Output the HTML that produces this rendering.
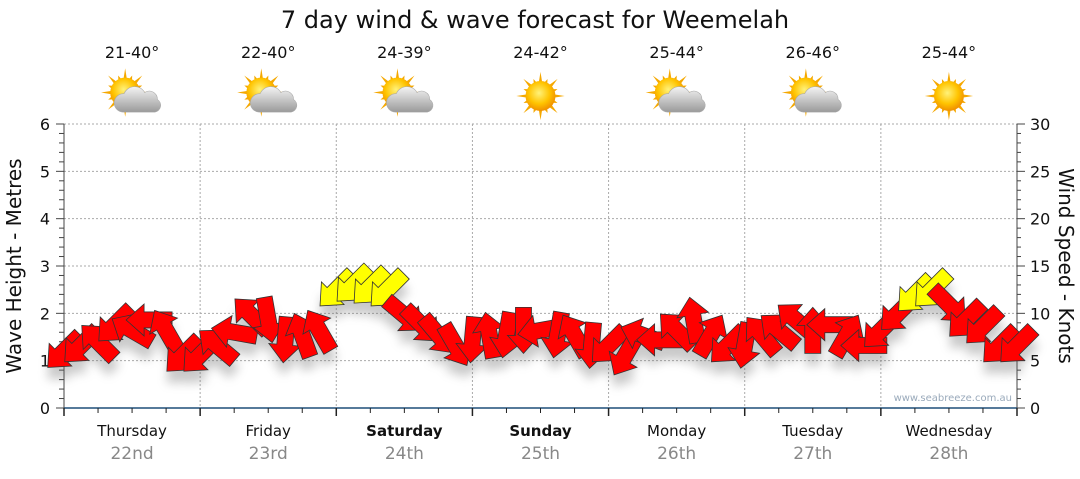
<!DOCTYPE html>
<html><head><meta charset="utf-8"><style>
body{margin:0;background:#fff;width:1080px;height:475px;overflow:hidden;font-family:"DejaVu Sans",sans-serif}
svg text{font-family:"DejaVu Sans","Liberation Sans",sans-serif}
</style></head><body>
<svg id="chart" width="1080" height="475" viewBox="0 0 1080 475" xmlns="http://www.w3.org/2000/svg">
<defs>
<filter id="sh" x="-50%" y="-50%" width="200%" height="200%"><feGaussianBlur stdDeviation="5"/></filter>
<radialGradient id="sunG" cx="45%" cy="40%" r="60%"><stop offset="0" stop-color="#fff27a"/><stop offset="0.6" stop-color="#ffc400"/><stop offset="1" stop-color="#f09000"/></radialGradient>
<linearGradient id="cloudG" x1="0" y1="0" x2="0" y2="1"><stop offset="0" stop-color="#f4f4f4"/><stop offset="1" stop-color="#9a9a9a"/></linearGradient>
</defs>
<text x="535" y="28" font-size="24" text-anchor="middle" fill="#111">7 day wind &amp; wave forecast for Weemelah</text>
<g id="grid"></g>
<g id="axes"></g>
<g id="weather"></g>
<g id="shadows" filter="url(#sh)" opacity="0.35"></g>
<g id="arrows"></g>
<text transform="translate(21,266) rotate(-90)" font-size="20" text-anchor="middle" fill="#111">Wave Height - Metres</text>
<text transform="translate(1059,266) rotate(90)" font-size="20" text-anchor="middle" fill="#111">Wind Speed - Knots</text>
<text x="1012" y="401" font-size="10" text-anchor="end" fill="#9aaabb">www.seabreeze.com.au</text>
</svg>
<script>
const days=["Thursday","Friday","Saturday","Sunday","Monday","Tuesday","Wednesday"];
const dates=["22nd","23rd","24th","25th","26th","27th","28th"];
const boldDays=[false,false,true,true,false,false,false];
const temps=["21-40°","22-40°","24-39°","24-42°","25-44°","26-46°","25-44°"];
const cloudy=[true,true,true,false,true,true,false];
const waveTicks=[0,1,2,3,4,5,6];
const windTicks=[0,5,10,15,20,25,30];
// 3-hourly wind speed (knots) and direction (screen degrees the arrow points, 0=right,90=down)
const windSpeed=[6,6.6,7,8.8,8.2,9.3,8.2,5.6, 5.6,6.6,8,9.8,9.3,7.2,7.7,8.2, 12.5,13,12.8,12.5,9.8,8.8,7.7,6.6, 7.2,7.7,7.7,8.2,8.2,7.7,7.7,6.6, 6.6,5.6,7.7,7.2,8.2,9.3,7.7,6.6, 6.6,7.7,8.2,9.3,8.2,8.8,7.7,6.6, 8.2,10,12,12.5,10.9,9.3,8.6,6.6,6.6];
const windDir=[135,135,-135,135,-150,180,-120,135, 135,-140,-170,-135,80,95,-110,-120, 135,135,135,135,40,45,50,60, 95,-100,100,90,170,100,-120,95, 135,120,-160,180,-135,-100,-60,135, 100,-130,-140,-140,-90,180,-60,180, 135,135,135,135,45,135,135,135,135];
const X0=64,X1=1017,Y0=408,Y1=124;
const NS="http://www.w3.org/2000/svg";
const xDay=d=>X0+(X1-X0)*d/7;
const yWave=v=>Y0-(Y0-Y1)*v/6;
const yWind=v=>Y0-(Y0-Y1)*v/30;
const xIdx=i=>X0+(X1-X0)*i/56;
function mk(tag,attrs,parent){const e=document.createElementNS(NS,tag);for(const k in attrs)e.setAttribute(k,attrs[k]);parent.appendChild(e);return e;}
const grid=document.getElementById('grid'),axes=document.getElementById('axes'),weather=document.getElementById('weather');
waveTicks.forEach(v=>{if(v>0){const l=mk('line',{x1:X0,x2:X1,y1:yWave(v),y2:yWave(v),stroke:'#aaa','stroke-dasharray':'2,2'},grid);

}
const t=mk('text',{x:50,y:yWave(v)+6,'font-size':16,'text-anchor':'end',fill:'#111'},axes);t.textContent=v;

});
for(let v=0;v<=6.001;v+=0.2){mk('line',{x1:v%1<0.01||v%1>0.99?56:59,x2:64,y1:yWave(v),y2:yWave(v),stroke:'#444'},axes);}
windTicks.forEach(v=>{const t=mk('text',{x:1030,y:yWind(v)+6,'font-size':16,fill:'#111'},axes);t.textContent=v;

});
for(let v=0;v<=30;v+=1){mk('line',{x1:1017,x2:v%5?1021:1025,y1:yWind(v),y2:yWind(v),stroke:'#444'},axes);}
mk('line',{x1:X0,x2:X0,y1:Y1,y2:Y0,stroke:'#444'},axes);
mk('line',{x1:X1,x2:X1,y1:Y1,y2:Y0,stroke:'#444'},axes);
for(let d=1;d<7;d++){const l=mk('line',{x1:xDay(d),x2:xDay(d),y1:Y1,y2:Y0,stroke:'#aaa','stroke-dasharray':'2,2'},grid);

}
mk('line',{x1:X0,x2:X1,y1:Y0,y2:Y0,stroke:'#1f4e79','stroke-width':1.5},axes);
for(let q=0;q<=28;q++){const x=X0+(X1-X0)*q/28;mk('line',{x1:x,x2:x,y1:Y0,y2:q%4?Y0+5:Y0+8,stroke:'#222','stroke-width':q%4?1:1.5},axes);}
days.forEach((n,d)=>{const cx=xDay(d+0.5);
const a=mk('text',{x:cx,y:436,'font-size':15,'text-anchor':'middle',fill:'#111','font-weight':boldDays[d]?'bold':'normal'},axes);a.textContent=n;


const b=mk('text',{x:cx,y:459,'font-size':17,'text-anchor':'middle',fill:'#888'},axes);b.textContent=dates[d];


const t=mk('text',{x:cx,y:58,'font-size':16,'text-anchor':'middle',fill:'#111'},weather);t.textContent=temps[d];


const g=mk('g',{transform:`translate(${cx},96) scale(1.15)`},weather);


const sx=cloudy[d]?-6:0,sy=cloudy[d]?-3:0;
for(let r=0;r<16;r++){const ang=r*Math.PI/8,L=r%2?16:21;mk('polygon',{points:`${sx+Math.cos(ang-0.12)*12},${sy+Math.sin(ang-0.12)*12} ${sx+Math.cos(ang)*L},${sy+Math.sin(ang)*L} ${sx+Math.cos(ang+0.12)*12},${sy+Math.sin(ang+0.12)*12}`,fill:'#f5a800'},g);}
mk('circle',{cx:sx,cy:sy,r:13,fill:'url(#sunG)'},g);
if(cloudy[d]){mk('path',{d:'M-8,14 a8,8 0 0 1 1,-16 a10,10 0 0 1 18,-1 a7,7 0 0 1 11,6 a6,6 0 0 1 -2,11 z',fill:'url(#cloudG)',stroke:'#aaa','stroke-width':0.5},g);}
});
const arrows=document.getElementById('arrows'),shadows=document.getElementById('shadows');
const AP='M-23,-8 L5,-8 L5,-16 L23,0 L5,16 L5,8 L-23,8 Z';
windSpeed.forEach((s,i)=>{const x=xIdx(i),y=yWind(s),dir=windDir[i];
mk('path',{d:AP,transform:`translate(${x},${y+12}) rotate(${dir})`,fill:'#666'},shadows);
const p=mk('path',{d:AP,transform:`translate(${x},${y}) rotate(${dir})`,fill:s>=11?'#ffff00':'#ff0000',stroke:'#333','stroke-width':0.8},arrows);

});
</script>
</body></html>
